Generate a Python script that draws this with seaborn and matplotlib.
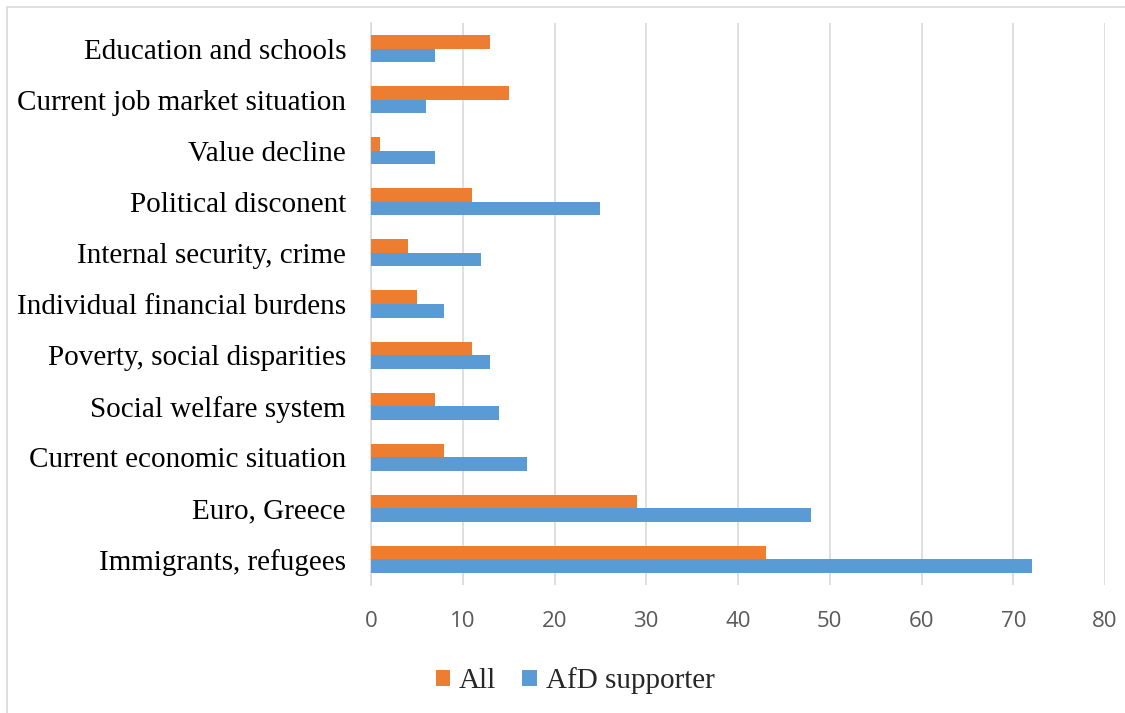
import matplotlib
matplotlib.use("Agg")
import matplotlib.pyplot as plt
from matplotlib.lines import Line2D
import seaborn as sns
import pandas as pd

categories = [
    "Education and schools",
    "Current job market situation",
    "Value decline",
    "Political disconent",
    "Internal security, crime",
    "Individual financial burdens",
    "Poverty, social disparities",
    "Social welfare system",
    "Current economic situation",
    "Euro, Greece",
    "Immigrants, refugees",
]
all_values = [13, 15, 1, 11, 4, 5, 11, 7, 8, 29, 43]
afd_values = [7, 6, 7, 25, 12, 8, 13, 14, 17, 48, 72]
series_names = ["All", "AfD supporter"]
x_ticks = [0, 10, 20, 30, 40, 50, 60, 70, 80]

df = pd.DataFrame({
    "category": categories * 2,
    "value": all_values + afd_values,
    "series": [series_names[0]] * len(categories) + [series_names[1]] * len(categories),
})

sns.set_theme(style="white")
plt.rcParams["font.family"] = ["DejaVu Sans"]

fig = plt.figure(figsize=(11.25, 7.13), dpi=100)
ax = fig.add_axes([371 / 1125, 1 - 585 / 713, (1105 - 371) / 1125, (585 - 23) / 713])

palette = {"All": "#ED7D31", "AfD supporter": "#5B9BD5"}
sns.barplot(data=df, y="category", x="value", hue="series", order=categories,
            hue_order=series_names, palette=palette, orient="h", width=0.53,
            saturation=1, ax=ax, edgecolor="none", zorder=3)

ax.set_xlim(0, 80)
ax.set_xticks(x_ticks)
ax.set_xticklabels([str(t) for t in x_ticks], fontfamily="Open Sans", fontsize=16, color="#595959")
ax.set_yticks(range(len(categories)))
ax.set_yticklabels(categories, fontfamily="Liberation Serif", fontsize=21, color="black")
ax.tick_params(axis="x", length=0, pad=19)
ax.tick_params(axis="y", length=0, pad=18)
ax.set_xlabel("")
ax.set_ylabel("")
ax.grid(axis="x", color="#d9d9d9", linewidth=1.2, zorder=0)
ax.grid(axis="y", visible=False)
for s in ["top", "right", "bottom"]:
    ax.spines[s].set_visible(False)
ax.spines["left"].set_color("#d9d9d9")
ax.spines["left"].set_linewidth(1.2)

handles, labels = ax.get_legend_handles_labels()
ax.legend(handles, labels, loc="center", bbox_to_anchor=(575 / 1125, 1 - 681 / 713),
          bbox_transform=fig.transFigure, ncol=2, frameon=False,
          handlelength=0.5, handleheight=0.5, handletextpad=0.3, columnspacing=0.9,
          prop={"family": "Liberation Serif", "size": 21})

# outer chart border (top and left visible)
fig.add_artist(Line2D([6.5 / 1125, 6.5 / 1125], [0, 1 - 6.5 / 713], transform=fig.transFigure,
                      color="#d9d9d9", linewidth=1.2))
fig.add_artist(Line2D([6.5 / 1125, 1], [1 - 6.5 / 713, 1 - 6.5 / 713], transform=fig.transFigure,
                      color="#d9d9d9", linewidth=1.2))

fig.savefig("out.png", dpi=100, facecolor="white")
